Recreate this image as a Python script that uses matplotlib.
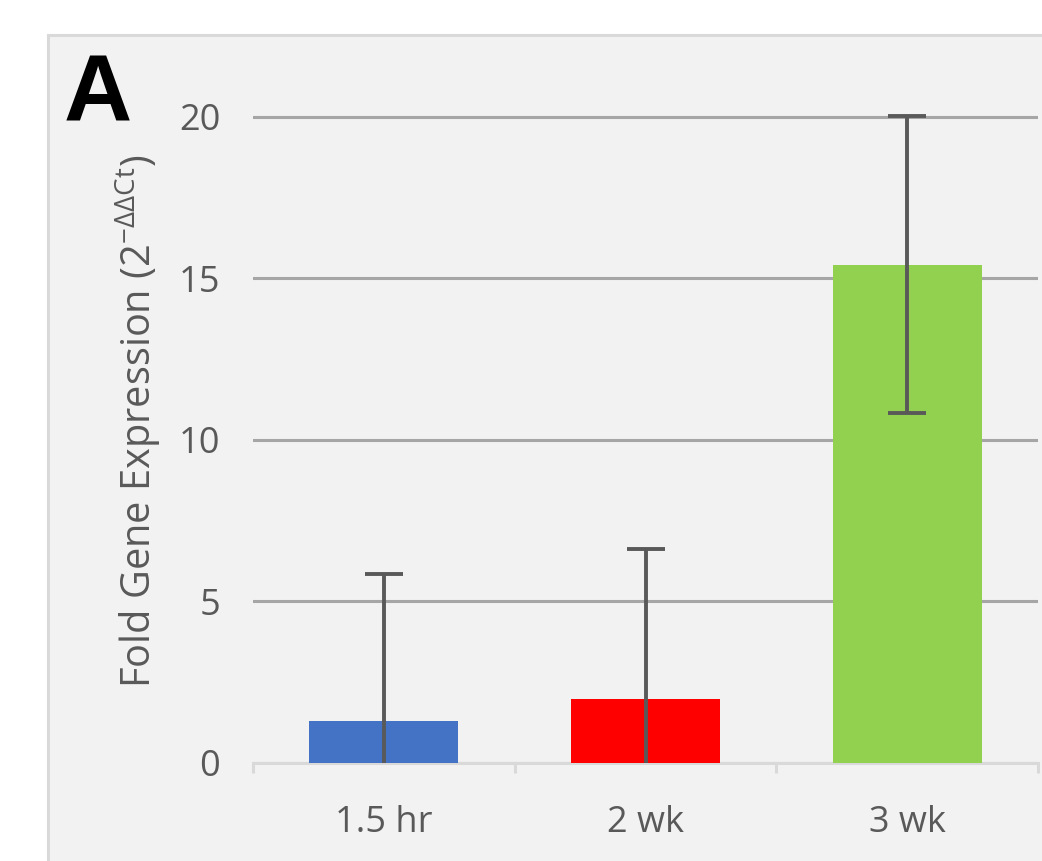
import matplotlib.pyplot as plt
from matplotlib.patches import Rectangle

plt.rcParams['font.family'] = ['Open Sans', 'DejaVu Sans']
plt.rcParams['mathtext.fontset'] = 'custom'
plt.rcParams['mathtext.rm'] = 'Open Sans'
plt.rcParams['mathtext.default'] = 'regular'

# fold change per time point, with error (symmetric, cut at the axis)
groups = ['1.5 hr', '2 wk', '3 wk']
fold = [1.30, 1.98, 15.42]
err = [4.55, 4.65, 4.60]
colors = ['#4472c4', '#ff0000', '#92d050']
yticks = [0, 5, 10, 15, 20]

W, H = 1042, 861
fig = plt.figure(figsize=(W / 100, H / 100), dpi=100)
fig.patch.set_facecolor('white')

# grey panel behind the chart
fig.patches.append(Rectangle((48 / W, -0.1), 1.2, (H - 35) / H + 0.1,
                             transform=fig.transFigure, facecolor='#f2f2f2',
                             edgecolor='#d9d9d9', linewidth=2.2, zorder=-5))

ax = fig.add_axes([253 / W, 98 / H, (1038 - 253) / W, 651 / H])
ax.set_facecolor('none')
ax.set_zorder(1)

x = list(range(len(groups)))
ax.bar(x, fold, width=0.57, color=colors, zorder=3)
ax.errorbar(x, fold, yerr=err, fmt='none', ecolor='#595959', elinewidth=2.8,
            capsize=14, capthick=2.8, zorder=4)

ax.set_xlim(-0.5, 2.5)
ax.set_ylim(0, 20.15)
ax.set_yticks(yticks)
ax.set_yticklabels([str(v) for v in yticks])
ax.yaxis.grid(True, color='#a6a6a6', linewidth=2.2, zorder=1)
ax.set_axisbelow(True)

# boundaries as major ticks, names on minor ticks
ax.set_xticks([-0.5, 0.5, 1.5, 2.5])
ax.set_xticklabels([])
ax.set_xticks(x, minor=True)
ax.set_xticklabels(groups, minor=True)
ax.tick_params(axis='x', which='major', direction='out', length=7.5,
               width=2.2, color='#d9d9d9')
ax.tick_params(axis='x', which='minor', length=0, pad=30, labelsize=26,
               labelcolor='#595959')
ax.tick_params(axis='y', length=0, pad=23.5, labelsize=26, labelcolor='#595959')

for s in ['left', 'right', 'top']:
    ax.spines[s].set_visible(False)
ax.spines['bottom'].set_color('#d9d9d9')
ax.spines['bottom'].set_linewidth(2.2)
ax.spines['bottom'].set_zorder(2)

fig.text(138 / W, (H - 421) / H, r'Fold Gene Expression (2$^{-\Delta\Delta Ct}$)',
         rotation=90, ha='center', va='center', fontsize=28.6, color='#595959')

fig.text(98 / W, (H - 97) / H, 'A', ha='center', va='center',
         fontsize=68, fontweight='bold', family='Liberation Sans', color='black')

fig.savefig('out.png', dpi=100)
